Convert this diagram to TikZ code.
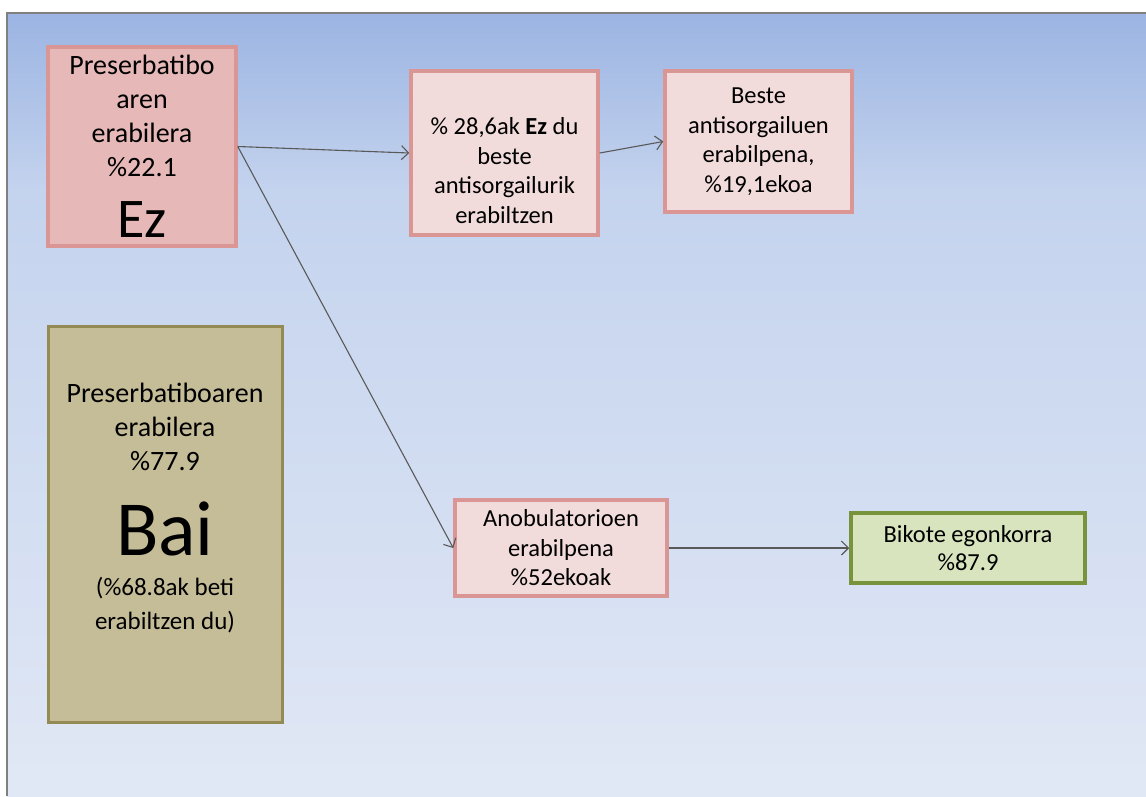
\documentclass[tikz,border=0pt]{standalone}
\usepackage{fontspec}
\setmainfont{Carlito}
\usetikzlibrary{arrows.meta}

\definecolor{bgtop}{HTML}{9BB4E2}
\definecolor{bgmid}{HTML}{C4D3EE}
\definecolor{bgbot}{HTML}{E1E8F5}
\definecolor{rosefill}{HTML}{E6B9B8}
\definecolor{paleros}{HTML}{F2DCDB}
\definecolor{roseline}{HTML}{D99694}
\definecolor{olivefill}{HTML}{C4BD97}
\definecolor{oliveline}{HTML}{948A54}
\definecolor{greenfill}{HTML}{D7E4BD}
\definecolor{greenline}{HTML}{77933C}
\definecolor{linkgray}{HTML}{595959}

\newcommand{\bigtxt}{\fontsize{28}{34}\selectfont}
\newcommand{\smalltxt}{\fontsize{25}{30}\selectfont}

\tikzset{
    ezbox/.style={draw=roseline, fill=rosefill, line width=3.5pt, align=center, inner sep=0pt,
        font=\bigtxt},
    palebox/.style={draw=roseline, fill=paleros, line width=3.5pt, align=center, inner sep=0pt,
        font=\fontsize{24.5}{29.5}\selectfont},
    baibox/.style={draw=oliveline, fill=olivefill, line width=3pt, align=center, inner sep=0pt},
    greenbox/.style={draw=greenline, fill=greenfill, line width=3.5pt, align=center, inner sep=0pt,
        font=\fontsize{24.5}{28}\selectfont},
    link/.style={draw=linkgray, line width=1.1pt, -{Straight Barb[length=7pt,width=14pt]}}
}

\begin{document}
\begin{tikzpicture}[x=1pt, y=-1pt]
    \useasboundingbox (0,0) rectangle (1146,796);

    % Background
    \fill[top color=bgtop, bottom color=bgmid] (7,13) rectangle (1146,190);
    \fill[top color=bgmid, bottom color=bgbot] (7,189.5) rectangle (1146,796);
    \draw[gray, line width=1.2pt] (7,796) -- (7,13) -- (1146,13);

    % Left column
    \node[ezbox, minimum width=188, minimum height=199] (ez) at (142,146.5)
        {Preserbatibo\\aren\\erabilera\\\%22.1\\[24pt]
         \fontsize{56}{56}\selectfont Ez};

    \node[baibox, minimum width=234, minimum height=396] (bai) at (165,524) {};
    \node[align=center, font=\bigtxt] (baitxt) at (165,508)
        {Preserbatiboaren\\erabilera\\\%77.9\\[31pt]
         \fontsize{78}{78}\selectfont Bai\\[6pt]
         \smalltxt (\%68.8ak beti\\\smalltxt erabiltzen du)};

    % Top row
    \node[palebox, minimum width=187, minimum height=164] (ezbeste) at (504.5,153)
        {\rule{0pt}{52pt}\% 28,6ak \textbf{Ez} du\\beste\\antisorgailurik\\erabiltzen};
    \node[palebox, minimum width=187, minimum height=141] (beste) at (758.5,141.5)
        {Beste\\antisorgailuen\\erabilpena,\\\%19,1ekoa};

    % Bottom row
    \node[palebox, minimum width=212, minimum height=96] (anob) at (561,548)
        {Anobulatorioen\\erabilpena\\\%52ekoak};
    \node[greenbox, minimum width=234, minimum height=70] (bikote) at (968,548)
        {Bikote egonkorra\\\%87.9};

    % Arrows
    \draw[link] (ez.east) -- (ezbeste.west);
    \draw[link] (ez.east) -- (anob.west);
    \draw[link] (ezbeste.east) -- (beste.west);
    \draw[link] (anob.east) -- (bikote.west);
\end{tikzpicture}
\end{document}
